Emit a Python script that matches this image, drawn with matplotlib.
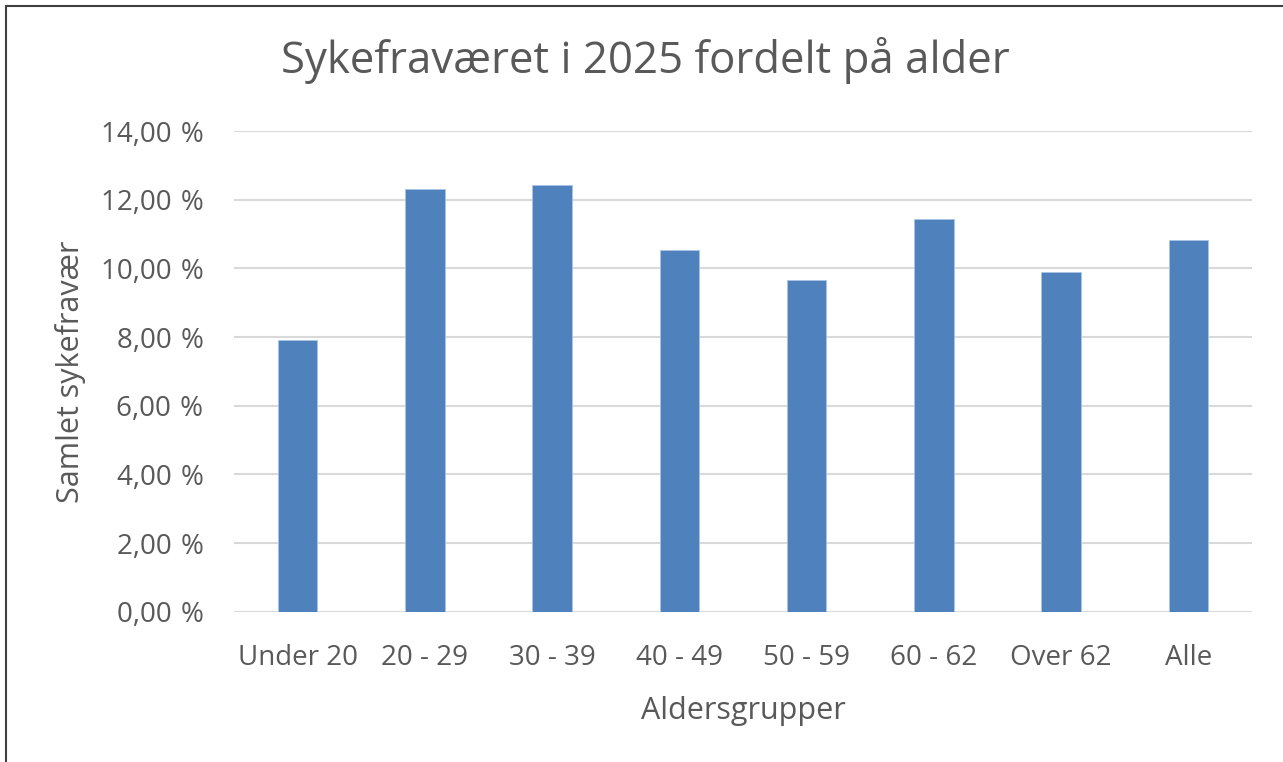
import matplotlib.pyplot as plt
from matplotlib.patches import Rectangle
from matplotlib.ticker import FuncFormatter

# Sykefravær per aldersgruppe (andel, %)
age_groups = ['Under 20', '20 - 29', '30 - 39', '40 - 49', '50 - 59', '60 - 62', 'Over 62', 'Alle']
sick_leave = [7.91, 12.31, 12.43, 10.52, 9.66, 11.43, 9.90, 10.83]
y_ticks = [0, 2, 4, 6, 8, 10, 12, 14]

plt.rcParams['font.family'] = ['Open Sans', 'DejaVu Sans']
text_color = '#595959'

fig = plt.figure(figsize=(12.83, 7.62), dpi=100)
W, H = 1283, 762
ax = fig.add_axes([234 / W, 1 - 611.7 / H, (1252 - 234) / W, (611.7 - 131) / H])

ax.bar(range(len(age_groups)), sick_leave, width=0.31, color='#4f81bd',
       edgecolor='#a9c4e6', linewidth=0.6, zorder=3)

ax.set_xlim(-0.5, len(age_groups) - 0.5)
ax.set_ylim(0, 14)
ax.set_yticks(y_ticks)
ax.yaxis.set_major_formatter(FuncFormatter(lambda v, p: f'{v:.2f}'.replace('.', ',') + '\u2009\u2009%'))
ax.set_xticks(range(len(age_groups)))
ax.set_xticklabels(age_groups)

ax.grid(axis='y', color='#d9d9d9', linewidth=1.5, zorder=0)
for s in ax.spines.values():
    s.set_visible(False)
ax.tick_params(length=0, labelsize=20, colors=text_color)
ax.tick_params(axis='y', pad=22)
ax.tick_params(axis='x', pad=23.5)

ax.set_xlabel('Aldersgrupper', fontsize=22, color=text_color, labelpad=17)
ax.set_ylabel('Samlet sykefravær', fontsize=22, color=text_color, labelpad=10.5)

fig.text(645 / W, 1 - 60 / H, 'Sykefraværet i 2025 fordelt på alder', fontsize=31.5,
         color=text_color, ha='center', va='center')

# ramme rundt diagrammet (kun venstre og topp synlig i bildet)
fig.patches.append(Rectangle((6 / W, -0.1), 1.2, 1 - 6 / H + 0.1, transform=fig.transFigure,
                             fill=False, edgecolor='#404040', linewidth=1.5))

fig.savefig('out.png', dpi=100)
